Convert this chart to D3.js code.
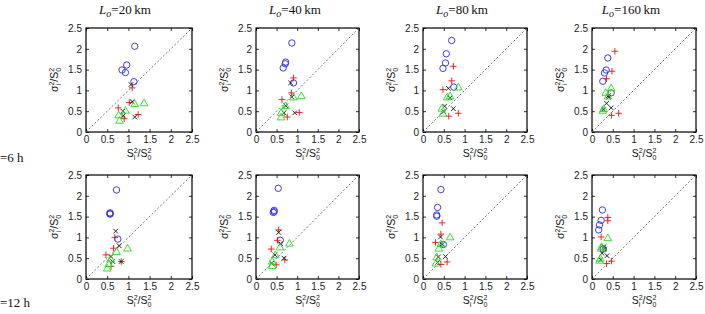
<!DOCTYPE html>
<html>
<head>
<meta charset="utf-8">
<script src="https://cdn.jsdelivr.net/npm/d3@7"></script>
<style>
  body { margin: 0; background: #fff; }
  text { font-family: "Liberation Sans", Arial, sans-serif; }
  .tick text { fill: #222; font-size: 10px; }
  .serif { font-family: "Liberation Serif", "Times New Roman", serif; }
</style>
</head>
<body>
<div id="container"></div>
<script>
const width = 705, height = 314;

/* DATA */
const scales = [20, 40, 80, 160];
const rowLabels = ["=6 h", "=12 h"];
const ticks = [0, 0.5, 1, 1.5, 2, 2.5];

// each array: one list of [S_i^2/S_0^2, sigma_i^2/S_0^2] per Lo panel
const circles6h = [
  [[1.15, 2.06], [0.96, 1.61], [0.85, 1.49], [0.93, 1.43], [1.13, 1.21]],
  [[0.87, 2.14], [0.72, 1.68], [0.71, 1.64], [0.66, 1.54], [0.91, 1.18]],
  [[0.69, 2.20], [0.56, 1.88], [0.54, 1.66], [0.48, 1.53], [0.74, 1.08]],
  [[0.38, 1.78], [0.34, 1.49], [0.30, 1.42], [0.26, 1.22], [0.46, 0.94]]
];
const plus6h = [
  [[1.09, 1.06], [1.02, 0.71], [0.76, 0.58], [0.90, 0.32], [1.23, 0.42]],
  [[0.91, 1.30], [0.86, 0.94], [0.63, 0.78], [0.76, 0.36], [1.05, 0.47]],
  [[0.73, 1.58], [0.69, 1.23], [0.48, 1.02], [0.62, 0.38], [0.85, 0.45]],
  [[0.55, 1.94], [0.48, 1.46], [0.35, 1.28], [0.47, 0.40], [0.64, 0.45]]
];
const cross6h = [
  [[1.06, 1.14], [1.09, 0.73], [0.87, 0.50], [0.88, 0.39], [1.15, 0.36]],
  [[0.84, 1.18], [0.87, 0.84], [0.72, 0.63], [0.68, 0.46], [0.94, 0.46]],
  [[0.61, 1.05], [0.65, 0.82], [0.73, 0.56], [0.52, 0.62], [0.50, 0.49]],
  [[0.39, 0.87], [0.35, 0.69], [0.46, 0.58], [0.27, 0.54], [0.40, 0.84]]
];
const tri6h = [
  [[1.15, 0.68], [1.37, 0.70], [0.93, 0.52], [0.77, 0.41], [0.79, 0.28]],
  [[0.91, 0.84], [1.10, 0.87], [0.72, 0.63], [0.61, 0.47], [0.61, 0.36]],
  [[0.85, 1.08], [0.65, 0.87], [0.58, 0.84], [0.45, 0.57], [0.48, 0.45]],
  [[0.46, 1.06], [0.33, 0.95], [0.38, 0.86], [0.28, 0.56], [0.26, 0.52]]
];

const circles12h = [
  [[0.72, 2.14], [0.57, 1.59], [0.57, 1.56], [0.56, 1.57], [0.75, 0.96]],
  [[0.54, 2.18], [0.44, 1.65], [0.44, 1.62], [0.42, 1.60], [0.59, 0.93]],
  [[0.43, 2.15], [0.35, 1.72], [0.33, 1.54], [0.33, 1.51], [0.49, 0.83]],
  [[0.25, 1.66], [0.22, 1.41], [0.18, 1.30], [0.16, 1.18], [0.27, 0.72]]
];
const plus12h = [
  [[0.68, 1.00], [0.65, 0.74], [0.47, 0.58], [0.59, 0.30], [0.83, 0.42]],
  [[0.55, 1.18], [0.52, 0.93], [0.37, 0.72], [0.49, 0.34], [0.70, 0.46]],
  [[0.46, 1.35], [0.43, 1.08], [0.30, 0.88], [0.43, 0.35], [0.58, 0.41]],
  [[0.38, 1.48], [0.38, 1.40], [0.22, 1.01], [0.35, 0.37], [0.47, 0.43]]
];
const cross12h = [
  [[0.70, 1.15], [0.78, 0.80], [0.59, 0.54], [0.63, 0.42], [0.83, 0.42]],
  [[0.55, 1.12], [0.60, 0.85], [0.46, 0.58], [0.38, 0.38], [0.68, 0.50]],
  [[0.42, 1.01], [0.46, 0.83], [0.54, 0.54], [0.37, 0.53], [0.35, 0.40]],
  [[0.29, 0.78], [0.30, 0.72], [0.36, 0.56], [0.24, 0.62], [0.21, 0.46]]
];
const tri12h = [
  [[0.98, 0.74], [0.72, 0.66], [0.58, 0.48], [0.54, 0.37], [0.50, 0.26]],
  [[0.81, 0.86], [0.58, 0.77], [0.47, 0.58], [0.39, 0.43], [0.39, 0.32]],
  [[0.65, 1.01], [0.43, 0.85], [0.38, 0.74], [0.33, 0.53], [0.31, 0.38]],
  [[0.38, 0.99], [0.23, 0.78], [0.22, 0.74], [0.20, 0.50], [0.18, 0.45]]
];

const rows = [
  { circles: circles6h, plus: plus6h, cross: cross6h, tri: tri6h },
  { circles: circles12h, plus: plus12h, cross: cross12h, tri: tri12h }
];

/* LAYOUT */
const panelLeft = [86, 256, 423, 592];
const panelWidth = [106, 103, 104, 104];
const panelTop = [28, 175];
const panelHeight = 104;

const svg = d3.select("#container").append("svg")
  .attr("width", width)
  .attr("height", height)

// column titles
scales.forEach((L, c) => {
  const t = svg.append("text")
    .attr("class", "serif")
    .attr("x", panelLeft[c] + 39)
    .attr("y", 14)
    .attr("text-anchor", "middle")
    .attr("font-size", 13)
    .attr("fill", "#111")
  t.append("tspan").attr("font-style", "italic").text("L")
  t.append("tspan").attr("font-style", "italic").attr("font-size", 10).attr("dy", 3).text("o")
  t.append("tspan").attr("dy", -3).text("=" + L + "\u2009km")
})

// row labels
rowLabels.forEach((lab, r) => {
  svg.append("text")
    .attr("class", "serif")
    .attr("x", 0)
    .attr("y", r === 0 ? 162 : 307)
    .attr("font-size", 13)
    .attr("fill", "#111")
    .text(lab)
})

// X^2_sub / S^2_0 with stacked super/subscripts
function fraction(sel, head, sub) {
  sel.append("tspan").text(head)
  sel.append("tspan").attr("font-size", 7).attr("dy", -4.5).text("2")
  sel.append("tspan").attr("font-size", 7).attr("dx", -3.9).attr("dy", 7.5).text(sub)
  sel.append("tspan").attr("dx", 2.3).attr("dy", -3).text("/S")
  sel.append("tspan").attr("font-size", 7).attr("dy", -4.5).text("2")
  sel.append("tspan").attr("font-size", 7).attr("dx", -3.9).attr("dy", 7.5).text("0")
}

rows.forEach((row, r) => {
  scales.forEach((L, c) => {
    const x0 = panelLeft[c], y0 = panelTop[r], w = panelWidth[c], h = panelHeight;

    const xScale = d3.scaleLinear().domain([0, 2.5]).range([x0, x0 + w])
    const yScale = d3.scaleLinear().domain([0, 2.5]).range([y0 + h, y0])

    const g = svg.append("g")

    // axes with inward ticks (matlab style)
    g.append("g")
      .attr("transform", `translate(0,${y0 + h})`)
      .call(d3.axisBottom(xScale).tickValues(ticks).tickSizeInner(-3).tickSizeOuter(0).tickPadding(4).tickFormat(d3.format("")))
    g.append("g")
      .attr("transform", `translate(${x0},0)`)
      .call(d3.axisLeft(yScale).tickValues(ticks).tickSizeInner(-3).tickSizeOuter(0).tickPadding(4).tickFormat(d3.format("")))
    g.append("g")
      .attr("transform", `translate(0,${y0})`)
      .call(d3.axisTop(xScale).tickValues(ticks).tickSizeInner(-3).tickSizeOuter(0).tickFormat(""))
    g.append("g")
      .attr("transform", `translate(${x0 + w},0)`)
      .call(d3.axisRight(yScale).tickValues(ticks).tickSizeInner(-3).tickSizeOuter(0).tickFormat(""))
    g.selectAll(".domain").remove()
    g.selectAll(".tick line").attr("stroke", "#000").attr("stroke-width", 0.8)

    g.append("rect")
      .attr("x", x0).attr("y", y0).attr("width", w).attr("height", h)
      .attr("fill", "none").attr("stroke", "#000").attr("stroke-width", 1.2)

    // 1:1 line
    g.append("line")
      .attr("x1", xScale(0)).attr("y1", yScale(0))
      .attr("x2", xScale(2.5)).attr("y2", yScale(2.5))
      .attr("stroke", "#555").attr("stroke-width", 0.8).attr("stroke-dasharray", "2,2")

    // markers
    g.selectAll("circle.mk")
      .data(row.circles[c])
      .join("circle")
      .attr("class", "mk")
      .attr("cx", d => xScale(d[0]))
      .attr("cy", d => yScale(d[1]))
      .attr("r", 3.2)
      .attr("fill", "none").attr("stroke", "#2a2ae0").attr("stroke-width", 0.9)

    g.selectAll("path.plus")
      .data(row.plus[c])
      .join("path")
      .attr("class", "plus")
      .attr("d", d => {
        const px = xScale(d[0]), py = yScale(d[1]), s = 3.3
        return `M${px - s},${py}H${px + s}M${px},${py - s}V${py + s}`
      })
      .attr("stroke", "#ee1111").attr("stroke-width", 0.9)

    g.selectAll("path.cross")
      .data(row.cross[c])
      .join("path")
      .attr("class", "cross")
      .attr("d", d => {
        const px = xScale(d[0]), py = yScale(d[1]), s = 2.3
        return `M${px - s},${py - s}L${px + s},${py + s}M${px - s},${py + s}L${px + s},${py - s}`
      })
      .attr("stroke", "#111").attr("stroke-width", 0.9)

    g.selectAll("path.tri")
      .data(row.tri[c])
      .join("path")
      .attr("class", "tri")
      .attr("d", d => {
        const px = xScale(d[0]), py = yScale(d[1]), s = 3.8
        return `M${px},${py - s}L${px + s},${py + s * 0.75}L${px - s},${py + s * 0.75}Z`
      })
      .attr("fill", "none").attr("stroke", "#22dd22").attr("stroke-width", 0.9)

    // axis labels
    const xl = g.append("text")
      .attr("x", x0 + w / 2)
      .attr("y", y0 + h + 25)
      .attr("text-anchor", "middle")
      .attr("font-size", 10.5)
      .attr("fill", "#111")
    fraction(xl, "S", "i")

    const yl = g.append("text")
      .attr("transform", `translate(${x0 - 28},${y0 + h / 2}) rotate(-90)`)
      .attr("text-anchor", "middle")
      .attr("font-size", 10.5)
      .attr("fill", "#111")
    fraction(yl, "\u03c3", "i")
  })
})
</script>
</body>
</html>
